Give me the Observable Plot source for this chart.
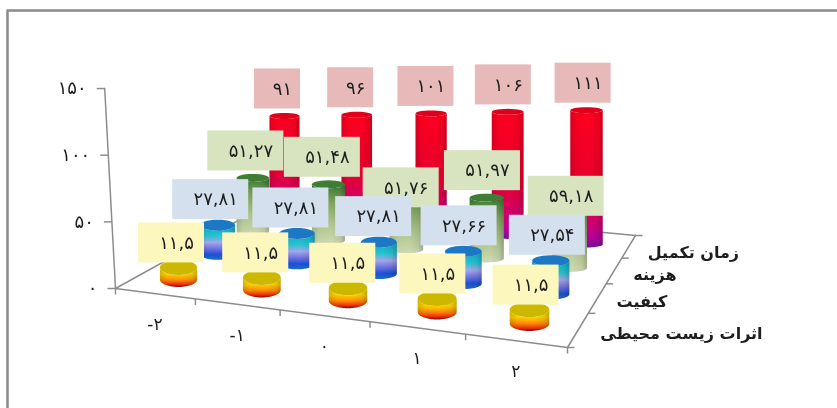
<!DOCTYPE html>
<html lang="fa">
<head>
<meta charset="utf-8">
<script src="https://cdn.jsdelivr.net/npm/d3@7"></script>
<script src="https://cdn.jsdelivr.net/npm/@observablehq/plot@0.6"></script>
<style>html,body{margin:0;padding:0;background:#fff}svg{display:block;filter:blur(0.35px)}</style>
</head>
<body>
<div id="chart"></div>
<script>
// ---- data ----
const categories = [-2, -1, 0, 1, 2];
const seriesNames = ["اثرات زیست محیطی", "کیفیت", "هزینه", "زمان تکمیل"];
const environmental = [11.5, 11.5, 11.5, 11.5, 11.5];
const quality = [27.81, 27.81, 27.81, 27.66, 27.54];
const cost = [51.27, 51.48, 51.76, 51.97, 59.18];
const time = [91, 96, 101, 106, 111];
const valueTicks = [0, 50, 100, 150];

// ---- styles ----
const series = [environmental, quality, cost, time];
const labelFill = ["#fbf7bd", "#d5e0ee", "#d8e4bf", "#e8b9b9"];
const capFill = ["#cdb800", "#1c78c4", "#3f7d36", "#e0001c"];
const ink = "#1d1d1d", axisInk = "#8c8c8c";
const font = "DejaVu Sans";

// ---- oblique projection of the 3D chart ----
function homography([x0,y0],[x1,y1],[x2,y2],[x3,y3]) { // (0,0),(1,0),(1,1),(0,1)
  const dx1=x1-x2, dx2=x3-x2, sx=x0-x1+x2-x3, dy1=y1-y2, dy2=y3-y2, sy=y0-y1+y2-y3;
  const den=dx1*dy2-dx2*dy1, g=(sx*dy2-dx2*sy)/den, h=(dx1*sy-sx*dy1)/den;
  const a=x1-x0+g*x1, b=x3-x0+h*x3, d=y1-y0+g*y1, e=y3-y0+h*y3;
  return (u,v)=>{const w=g*u+h*v+1; return [(a*u+b*v+x0)/w,(d*u+e*v+y0)/w];};
}
const nCat = categories.length, nSer = series.length;
const axisFloor = homography([115,288],[567,347],[635,235],[272,201]);
const barFloor  = homography([178,279],[529,323],[586,244],[284,211]);
const floorAt = (u,v) => axisFloor(u/nCat, v/nSer);
const baseAt  = (i,j) => barFloor(i/(nCat-1), j/(nSer-1));
const unitPx  = i => 1.05 + 0.04*i;                     // pixels per value
const ryOf    = [7.5, 5.5, 4, 3];                        // cap half height per row
const rxOf    = (i,j) => 15 + (3-j)*1.2 + 0.3*i;         // cap half width
const wallAt  = v => { const [x,y]=floorAt(0,0); return [x - v*0.072, y - v*1.333]; };
const rowLabelDy = [3, 0, -3, -4];
const labelNudge = new Map([["2,2", 24], ["4,2", 27]]);  // labels moved by hand in the source

const fa = v => String(v).replace(".", ",").replace(/\d/g, d => "۰۱۲۳۴۵۶۷۸۹"[d]);

function ellipsePts(cx, cy, rx, ry, from, to) {
  const n = 28, out = [];
  for (let k=0;k<=n;k++){const t=from+(to-from)*k/n; out.push([cx+rx*Math.cos(t), cy+ry*Math.sin(t)]);}
  return out;
}
function cylinder(i,j){
  const v = series[j][i], [bx,by] = baseAt(i,j), rx = rxOf(i,j), ry = ryOf[j];
  const ty = by - v*unitPx(i);
  const body = [...ellipsePts(bx,by,rx,ry,0,Math.PI), ...ellipsePts(bx,ty,rx,ry,Math.PI,0)];
  const cap = ellipsePts(bx,ty,rx,ry,0,2*Math.PI);
  return {body, cap, bx, ty, top: ty-ry};
}
const polyRows = list => list.flatMap((pts,id)=>pts.map(([x,y])=>({x,y,id})));

// ---- gradients ----
const gradients = [
  ["g0","y",[[0,"#e6c800"],[.35,"#ffd400"],[.65,"#ff8a00"],[.88,"#e82a00"],[1,"#8a0010"]]],
  ["g1","y",[[0,"#12a6c8"],[.3,"#22c6d0"],[.5,"#a4a8ec"],[.68,"#6f72e0"],[.85,"#1c4fd8"],[1,"#1c70c8"]]],
  ["g2","y",[[0,"#3a7a34"],[.3,"#7fa45c"],[.65,"#aec48c"],[1,"#cfdbb4"]]],
  ["g3","y",[[0,"#ff0020"],[.55,"#e8002c"],[.82,"#d00070"],[.93,"#b8009a"],[1,"#70109c"]]],
  ["shade","x",[[0,"#000",.14],[.2,"#000",.02],[.6,"#000",0],[.85,"#000",.06],[1,"#000",.2]]]
];
const defs = () => {
  const d = d3.create("svg:defs");
  for (const [id,axis,stops] of gradients){
    const g = d.append("linearGradient").attr("id",id)
      .attr("x1",0).attr("y1",0).attr("x2",axis==="x"?1:0).attr("y2",axis==="y"?1:0);
    for (const [o,c,a] of stops) g.append("stop").attr("offset",o).attr("stop-color",c).attr("stop-opacity",a??1);
  }
  return d.node();
};

// ---- rows, back to front ----
const rowMarks = [];
for (let j=nSer-1;j>=0;j--){
  const cyl = categories.map((_,i)=>cylinder(i,j));
  const labels = cyl.map((c,i)=>{
    const text = fa(series[j][i]), w = 26 + 10*text.length;
    const cx = c.bx - 7 + i*0.9;
    const bottom = c.top + rowLabelDy[j] + (labelNudge.get(`${i},${j}`) ?? 0);
    return {text, x1:cx-w/2, x2:cx+w/2, y1:bottom-40, y2:bottom, tx:cx+5, ty:bottom-20};
  });
  const lineOpts = f => ({x:"x",y:"y",z:"id",fill:f,stroke:"none"});
  rowMarks.push(
    Plot.line(polyRows(cyl.map(c=>c.body)), lineOpts(`url(#g${j})`)),
    Plot.line(polyRows(cyl.map(c=>c.body)), lineOpts("url(#shade)")),
    Plot.line(polyRows(cyl.map(c=>c.cap)), lineOpts(capFill[j])),
    Plot.rect(labels,{x1:"x1",x2:"x2",y1:"y1",y2:"y2",fill:labelFill[j]}),
    Plot.text(labels,{x:"tx",y:"ty",text:"text",fontSize:18,fontFamily:font,fill:ink,textAnchor:"middle"})
  );
}

// ---- axes ----
const catTicks = d3.range(nCat+1).map(u=>floorAt(u,0));
const serTicks = d3.range(nSer+1).map(v=>floorAt(nCat,v));
const valTicks = valueTicks.map(v=>({v,p:wallAt(v)}));
const catLabels = categories.map((c,i)=>{const [x,y]=floorAt(i+.5,0); return {x,y:y+31,t:fa(c)};});
const serLabels = seriesNames.map((s,j)=>{const [x,y]=floorAt(nCat,j+.5); return {x:x+(j===0?22:19),y:y+4+(j===3?2:0),t:s};});

const axisLine = pts => Plot.line(pts.map(([x,y])=>({x,y})),{x:"x",y:"y",stroke:axisInk,strokeWidth:1.5});
const axisMarks = [
  axisLine([wallAt(150), wallAt(0)]),
  axisLine([floorAt(0,0), floorAt(nCat,0), floorAt(nCat,nSer)]),
  axisLine([floorAt(0,0), floorAt(0,nSer)]),
  axisLine([floorAt(0,nSer), floorAt(nCat,nSer)]),
  Plot.link(valTicks,{x1:d=>d.p[0]-8,y1:d=>d.p[1],x2:d=>d.p[0],y2:d=>d.p[1],stroke:axisInk,strokeWidth:1.5}),
  Plot.link(catTicks,{x1:d=>d[0],y1:d=>d[1],x2:d=>d[0],y2:d=>d[1]+6,stroke:axisInk,strokeWidth:1.5}),
  Plot.link(serTicks,{x1:d=>d[0],y1:d=>d[1],x2:d=>d[0]+7,y2:d=>d[1],stroke:axisInk,strokeWidth:1.5}),
  Plot.text(valTicks,{x:d=>d.p[0]-18,y:d=>d.p[1],text:d=>fa(d.v),textAnchor:"end",fontSize:18,fontFamily:font,fill:ink}),
  Plot.text(catLabels,{x:"x",y:"y",text:"t",fontSize:17,fontFamily:font,fill:ink}),
];
const serLabelMark = Plot.text(serLabels,{x:"x",y:"y",text:"t",textAnchor:"start",fontSize:16,fontWeight:"bold",fontFamily:font,fill:ink});

// ---- page frame (top and left edges only) ----
const frame = Plot.line([{x:7,y:408},{x:7,y:10},{x:837,y:10}],{x:"x",y:"y",stroke:"#8a8a8a",strokeWidth:2.5});

const chart = Plot.plot({
  width:837, height:408, margin:0,
  style:{background:"#fff"},
  x:{domain:[0,837],range:[0,837],axis:null},
  y:{domain:[0,408],range:[0,408],axis:null},
  marks:[defs, frame, ...axisMarks, ...rowMarks, serLabelMark]
});
document.getElementById("chart").append(chart);
</script>
</body>
</html>
